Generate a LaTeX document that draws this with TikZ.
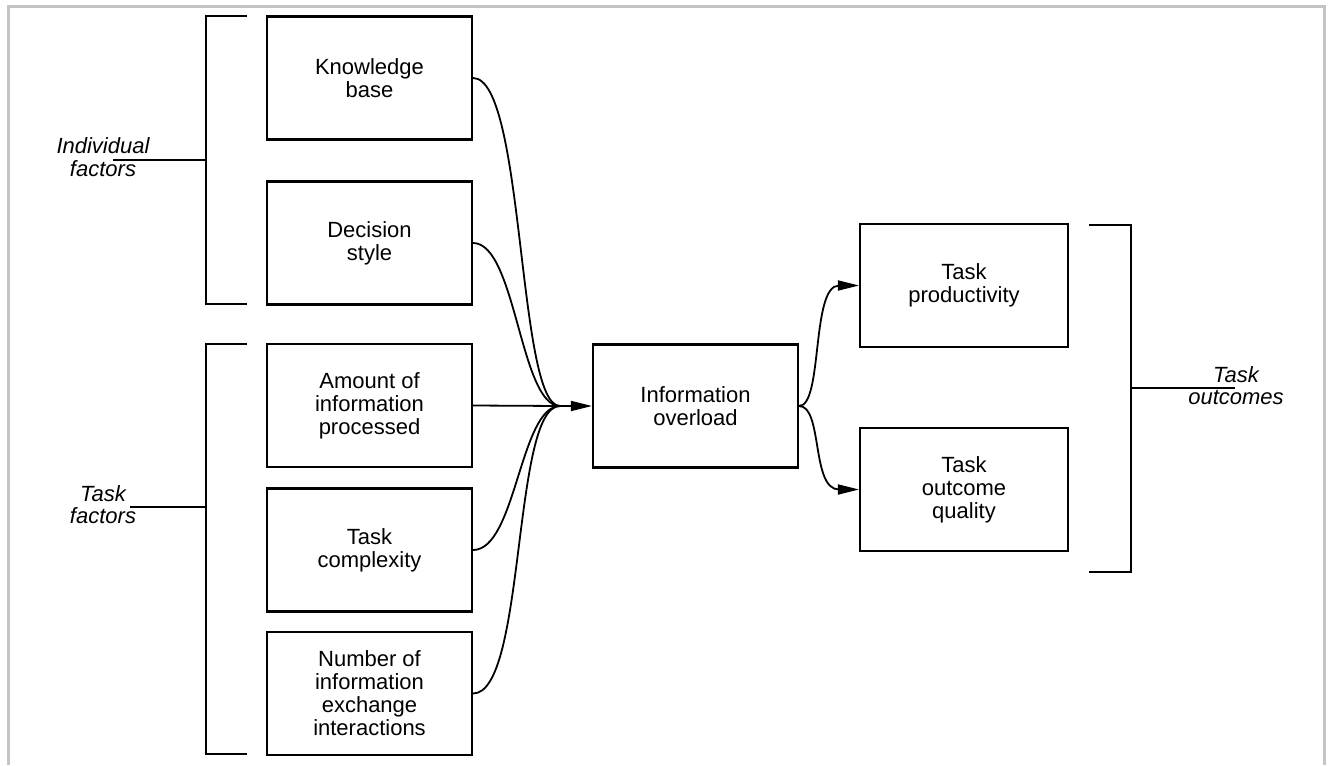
\documentclass[tikz,border=0pt]{standalone}
\usepackage{fontspec}
\setmainfont{Liberation Sans}
\usetikzlibrary{arrows.meta,calc}
\begin{document}
\begin{tikzpicture}[x=1pt,y=-1pt,
  box/.style={draw, line width=2.1pt, minimum width=205pt, minimum height=123pt,
    inner sep=0pt, align=center, font=\fontsize{22}{23}\selectfont},
  lbl/.style={align=center, inner sep=0pt, font=\fontsize{22}{22.5}\selectfont\itshape},
  brk/.style={line width=2.1pt},
  link/.style={line width=1.8pt},
  tip/.style={-{Triangle[length=21pt,width=10pt]}}
]
\useasboundingbox (0,0) rectangle (1332,765);
% page frame
\draw[black!23, line width=3pt] (8.5,765) -- (8.5,6.5) -- (1324.5,6.5) -- (1324.5,765);

% factor boxes
\node[box] (kb) at (369.5,78) {Knowledge\\base};
\node[box] (ds) at (369.5,243) {Decision\\style};
\node[box] (am) at (369.5,405.5) {Amount of\\information\\processed};
\node[box] (tc) at (369.5,550) {Task\\complexity};
\node[box] (nu) at (369.5,693.5) {Number of\\information\\exchange\\interactions};

% central and outcome boxes
\node[box] (io) at (695.5,406) {Information\\overload};
\node[box, minimum width=208pt] (tp) at (964,285.5) {Task\\productivity};
\node[box, minimum width=208pt] (tq) at (964,489.5) {Task\\outcome\\quality};

% group brackets and their labels
\draw[brk] (247,16) -- (206,16) -- (206,304) -- (247,304);
\draw[brk] (206,160) -- (113,160);
\node[lbl] (indiv) at (103,157) {Individual\\factors};

\draw[brk] (247,344) -- (206,344) -- (206,754) -- (247,754);
\draw[brk] (206,507) -- (130,507);
\node[lbl] (taskf) at (103,504.5) {Task\\factors};

\draw[brk] (1089,225) -- (1131,225) -- (1131,572) -- (1089,572);
\draw[brk] (1131,388) -- (1235,388);
\node[lbl] (tasko) at (1236,385.5) {Task\\outcomes};

% converging inputs
\coordinate (join) at (560,406);
\draw[link] (kb.east) .. controls +(52,0) and +(-43,0) .. (join);
\draw[link] (ds.east) .. controls +(43,0) and +(-40,0) .. (join);
\draw[link] (am.east) -- (join);
\draw[link] (tc.east) .. controls +(43,0) and +(-40,0) .. (join);
\draw[link] (nu.east) .. controls +(53,0) and +(-48,0) .. (join);
\draw[link,tip] (join) -- (io.west);

% diverging outputs
\coordinate (tpin) at ($(tp.west)+(-20,0)$);
\coordinate (tqin) at ($(tq.west)+(-20,0)$);
\draw[link,tip] (io.east) .. controls +(24,0) and +(-28,0) .. (tpin) -- (tp.west);
\draw[link,tip] (io.east) .. controls +(24,0) and +(-28,0) .. (tqin) -- (tq.west);
\end{tikzpicture}
\end{document}
